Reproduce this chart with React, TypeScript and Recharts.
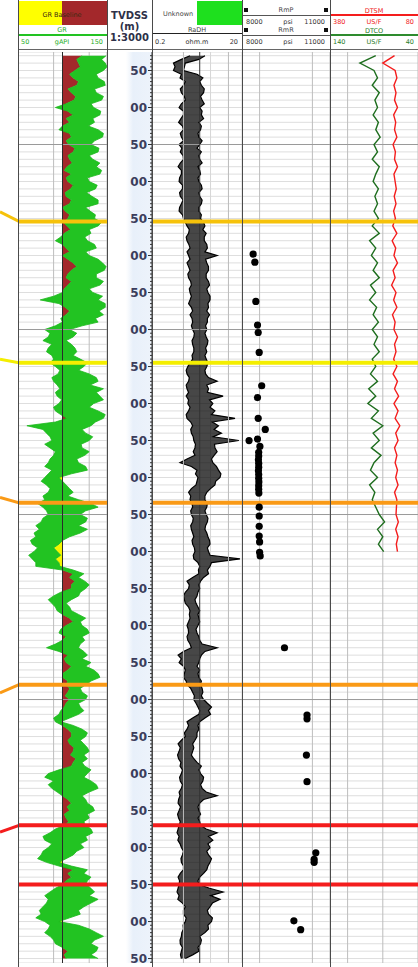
import React from "react";
import {
  Area,
  CartesianGrid,
  ComposedChart,
  Line,
  ReferenceLine,
  Scatter,
  XAxis,
  YAxis,
} from "recharts";

// ---- depth sampling -------------------------------------------------------
const LOG_START = 1030;
const LOG_STEP = 5;
const SONIC_STEP = 10;
const DEPTH_DOMAIN: [number, number] = [1025, 2256];

// GR envelope (gAPI), one value per 5 m from 1030 m to 2250 m (20 per line = 100 m)
const GR_BASELINE = 100;
const grLo = [
  122, 116, 118, 120, 114, 108, 112, 118, 116, 106, 110, 115, 113, 104, 92, 106, 112, 104, 108, 100,
  96, 108, 110, 104, 107, 114, 112, 106, 108, 111, 105, 102, 110, 104, 106, 112, 109, 103, 104, 110,
  108, 100, 103, 108, 106, 101, 105, 109, 102, 98, 92, 100, 104, 108, 100, 106, 112, 116, 110, 106,
  104, 110, 106, 102, 100, 90, 75, 96, 103, 108, 104, 98, 100, 92, 80, 86, 84, 78, 88, 84,
  82, 88, 90, 86, 92, 97, 95, 88, 90, 94, 97, 92, 94, 99, 96, 90, 92, 98, 105, 92,
  60, 78, 82, 86, 88, 80, 86, 92, 90, 86, 84, 80, 88, 84, 80, 76, 82, 86, 84, 78,
  80, 72, 78, 82, 84, 78, 76, 70, 74, 68, 70, 64, 66, 72, 68, 62, 66, 70, 70, 100,
  112, 108, 114, 110, 110, 98, 90, 84, 88, 92, 94, 100, 108, 112, 104, 98, 96, 104, 100, 92,
  82, 96, 106, 102, 104, 110, 106, 100, 100, 106, 104, 108, 106, 103, 108, 104, 102, 98, 96, 90,
  92, 100, 106, 110, 110, 106, 108, 113, 112, 109, 115, 112, 110, 96, 84, 80, 90, 84, 88, 94,
  100, 106, 110, 105, 108, 102, 104, 107, 102, 92, 86, 78, 80, 88, 84, 78, 76, 72, 82, 96,
  112, 106, 110, 104, 100, 92, 86, 80, 84, 82, 78, 74, 76, 70, 80, 86, 84, 80, 86, 90,
  92, 100, 106, 102, 104,
];
const grHi = [
  149, 144, 148, 150, 146, 138, 140, 147, 148, 136, 138, 146, 144, 132, 135, 143, 142, 134, 136, 129,
  140, 146, 145, 136, 132, 141, 140, 130, 134, 142, 138, 144, 142, 128, 130, 139, 137, 127, 133, 140,
  140, 126, 131, 137, 136, 144, 140, 130, 132, 125, 128, 136, 138, 126, 130, 140, 145, 149, 147, 138,
  138, 146, 142, 130, 134, 145, 140, 148, 148, 141, 146, 137, 140, 122, 108, 116, 112, 104, 110, 114,
  116, 112, 120, 128, 124, 118, 130, 138, 140, 131, 146, 138, 142, 146, 135, 130, 140, 148, 146, 137,
  132, 122, 126, 134, 130, 121, 122, 130, 125, 116, 118, 126, 128, 110, 96, 100, 104, 108, 112, 106,
  118, 132, 140, 126, 120, 128, 126, 118, 128, 120, 108, 100, 96, 90, 94, 98, 92, 96, 97, 112,
  124, 118, 125, 130, 126, 120, 118, 110, 104, 108, 110, 118, 126, 120, 122, 128, 130, 122, 125, 120,
  118, 124, 128, 122, 132, 126, 135, 140, 142, 132, 126, 120, 122, 128, 126, 118, 120, 124, 118, 108,
  98, 112, 122, 128, 126, 120, 124, 128, 130, 124, 128, 122, 125, 132, 128, 124, 132, 138, 140, 130,
  122, 126, 128, 134, 136, 128, 130, 124, 126, 132, 134, 126, 128, 120, 124, 116, 112, 104, 96, 110,
  128, 124, 132, 128, 126, 132, 136, 130, 140, 132, 124, 118, 120, 108, 96, 118, 130, 138, 146, 136,
  132, 140, 138, 132, 140,
];

// deep resistivity envelope (ohm.m), same sampling
const RES_CUTOFF = 2.3;
const resLo = [
  1.4, 0.9, 0.6, 0.65, 0.6, 0.9, 0.84, 1.1, 1.0, 0.85, 0.9, 1.05, 1.1, 0.9, 0.8, 1.0, 1.0, 0.88, 0.78, 0.95,
  1.0, 0.85, 0.9, 1.0, 0.8, 0.92, 0.85, 0.98, 1.0, 0.85, 0.76, 0.9, 0.9, 0.82, 0.8, 0.95, 0.95, 0.82, 0.85, 0.98,
  0.9, 0.82, 0.8, 0.95, 1.0, 1.1, 1.2, 1.35, 1.3, 1.15, 1.2, 1.32, 1.4, 1.2, 1.3, 1.4, 1.2, 1.3, 1.4, 1.25,
  1.3, 1.45, 1.5, 1.35, 1.4, 1.5, 1.4, 1.3, 1.5, 1.6, 1.4, 1.55, 1.6, 1.5, 1.6, 1.75, 1.7, 1.55, 1.6, 1.7,
  1.7, 1.55, 1.6, 1.4, 1.25, 1.15, 1.2, 1.35, 1.3, 1.15, 1.2, 1.3, 1.15, 1.3, 1.25, 1.4, 1.3, 1.15, 1.2, 1.45,
  1.6, 1.45, 1.5, 1.65, 1.7, 1.85, 1.8, 1.65, 1.8, 1.2, 0.84, 1.5, 2.0, 1.85, 2.1, 2.0, 1.9, 1.5, 1.3, 1.45,
  1.4, 1.55, 1.6, 1.45, 1.5, 1.65, 1.6, 1.45, 1.5, 1.6, 1.7, 1.55, 1.6, 1.75, 1.8, 1.65, 1.7, 2.1, 2.3, 2.15,
  2.2, 1.6, 1.2, 1.35, 1.3, 1.1, 1.0, 1.05, 1.1, 1.3, 1.4, 1.35, 1.4, 1.3, 1.2, 1.28, 1.3, 1.2, 1.25, 1.4,
  1.5, 1.0, 0.76, 0.9, 0.8, 1.0, 1.1, 1.05, 1.0, 1.15, 1.2, 1.45, 1.6, 1.75, 1.7, 1.9, 2.1, 2.3, 2.2, 1.6,
  1.2, 1.3, 1.2, 1.05, 1.1, 0.9, 0.76, 0.85, 0.8, 0.74, 0.78, 0.88, 0.84, 0.95, 0.9, 0.82, 0.85, 0.95, 0.9, 0.8,
  0.84, 0.78, 0.76, 0.86, 0.8, 0.74, 0.78, 0.85, 0.8, 0.76, 0.72, 0.8, 0.75, 0.84, 0.9, 1.0, 0.95, 0.88, 0.9, 1.0,
  1.0, 0.85, 0.76, 0.82, 0.8, 0.76, 0.72, 0.8, 0.75, 0.95, 1.1, 1.0, 1.0, 1.15, 1.1, 0.98, 1.0, 0.92, 0.9, 0.84,
  0.85, 0.95, 0.9, 0.86, 0.9,
];
const resHi = [
  3.0, 2.2, 1.1, 1.05, 1.0, 2.0, 2.7, 2.3, 2.5, 2.9, 2.8, 2.4, 2.6, 2.9, 2.3, 2.6, 2.5, 2.8, 2.2, 2.5,
  2.4, 2.1, 2.2, 2.6, 2.3, 2.0, 2.5, 2.2, 2.3, 2.6, 2.1, 2.3, 2.4, 2.1, 2.2, 2.5, 2.6, 2.2, 2.3, 2.6,
  2.5, 2.2, 2.2, 2.5, 2.4, 2.8, 3.0, 2.7, 3.2, 2.9, 2.9, 3.3, 3.4, 3.0, 5.6, 3.1, 3.3, 3.6, 3.6, 3.2,
  3.2, 3.6, 3.8, 3.3, 3.5, 3.9, 3.9, 3.5, 3.6, 3.3, 3.8, 3.4, 3.4, 3.1, 3.3, 3.0, 3.2, 3.5, 3.4, 3.1,
  3.3, 3.0, 3.2, 3.5, 3.3, 3.0, 3.1, 3.6, 5.6, 3.3, 3.6, 3.4, 7.6, 3.8, 4.5, 3.9, 5.0, 4.2, 14, 4.4,
  6.0, 4.8, 7.0, 4.6, 17, 4.9, 5.0, 5.6, 4.8, 4.2, 4.5, 5.4, 6.0, 6.8, 6.5, 5.2, 5.0, 4.0, 3.3, 3.0,
  3.0, 3.4, 3.3, 3.0, 3.2, 3.5, 3.4, 3.1, 3.0, 3.3, 3.5, 3.8, 3.9, 3.4, 3.6, 3.9, 18, 4.2, 3.9, 3.4,
  3.6, 2.8, 2.4, 2.2, 2.3, 2.1, 2.0, 1.8, 1.9, 2.1, 2.3, 2.1, 2.2, 2.3, 2.1, 1.9, 2.0, 2.2, 2.3, 2.6,
  5.6, 3.0, 2.5, 2.3, 2.2, 2.0, 2.3, 2.1, 2.2, 2.5, 2.4, 2.6, 2.7, 2.5, 2.8, 3.4, 4.2, 3.6, 4.0, 3.0,
  2.3, 2.1, 2.2, 2.0, 2.0, 1.8, 1.6, 1.7, 1.6, 1.5, 1.7, 2.0, 2.5, 2.2, 2.4, 2.8, 2.7, 2.4, 2.6, 3.2,
  5.6, 2.8, 2.3, 2.1, 2.2, 2.4, 2.1, 2.3, 2.4, 3.2, 5.6, 3.6, 4.5, 3.5, 3.9, 3.3, 3.6, 4.2, 3.9, 3.5,
  3.3, 2.8, 2.3, 2.1, 2.2, 3.8, 7.6, 4.0, 6.5, 4.4, 3.9, 3.4, 3.6, 4.4, 4.2, 3.5, 3.6, 3.0, 2.3, 2.5,
  2.4, 2.1, 2.2, 1.6, 1.1,
];

// sonic slowness (US/F), 10 m steps from 1030 m to 1700 m
const dtco = [
  88, 106, 90, 86, 92, 84, 89, 86, 91, 85,
  88, 83, 90, 86, 92, 84, 88, 91, 85, 89,
  86, 90, 85, 92, 84, 95, 88, 93, 86, 91,
  84, 94, 88, 95, 87, 91, 85, 92, 86, 90,
  84, 92, 88, 94, 86, 96, 88, 97, 85, 93,
  80, 91, 84, 93, 82, 90, 94, 86, 95, 89,
  92, null, 84, 78, 86, 80, 85, 79,
];
const dtsm = [
  160, 200, 158, 152, 162, 155, 160, 150, 163, 156,
  160, 152, 165, 157, 160, 150, 162, 158, 154, 161,
  155, 163, 157, 166, 152, 168, 156, 162, 150, 165,
  158, 170, 155, 163, 152, 167, 158, 162, 150, 160,
  155, 163, 152, 165, 150, 160, 146, 162, 148, 158,
  142, 156, 148, 160, 152, 158, 150, 156, 148, 160,
  152, null, 155, 147, 156, 148, 154, 150,
];

// formation pressure tests
const rmpDepth = [
  1298, 1309, 1362, 1394, 1404, 1431, 1476, 1492, 1520, 1535, 1548, 1550, 1558,
  1566, 1571, 1576, 1581, 1586, 1591, 1596, 1601, 1606, 1611, 1616, 1621,
  1640, 1652, 1666, 1679, 1687, 1701, 1706,
  1830, 1921, 1926, 1975, 2011, 2107, 2116, 2120, 2199, 2211,
];
const rmpPsi = [
  8379, 8438, 8472, 8528, 8552, 8586, 8672, 8528, 8552, 8793, 8528, 8241, 8610,
  8569, 8569, 8560, 8569, 8569, 8560, 8569, 8569, 8575, 8569, 8569, 8575,
  8586, 8586, 8586, 8586, 8600, 8600, 8620,
  9448, 10217, 10217, 10196, 10217, 10517, 10459, 10459, 9769, 10000,
];

// depth annotation
const depthLabels = [
  1050, 1100, 1150, 1200, 1250, 1300, 1350, 1400, 1450, 1500, 1550, 1600, 1650,
  1700, 1750, 1800, 1850, 1900, 1950, 2000, 2050, 2100, 2150, 2200, 2250,
];
const majorDepths = [1150, 1400, 1650, 1900, 2150];

// formation tops: depth in this well, depth at the correlation edge, colour
const topDepth = [1254, 1445, 1634, 1880, 2070, 2150];
const topEdgeDepth = [1241, 1440, 1627, 1891, 2079, null];
const topColor = ["#f6c20a", "#f4ee00", "#fa9a16", "#fa9a16", "#f41d1d", "#f41d1d"];

// ---- derived tables -------------------------------------------------------
const logRows = grLo.map((lo, i) => ({
  depth: LOG_START + i * LOG_STEP,
  gr: [lo, grHi[i]],
  grShale: [GR_BASELINE, Math.max(GR_BASELINE, lo)],
  grSand: [Math.min(GR_BASELINE, grHi[i]), GR_BASELINE],
  res: [resLo[i], resHi[i]],
}));
const sonicRows = dtco.map((v, i) => ({
  depth: LOG_START + i * SONIC_STEP,
  dtco: v,
  dtsm: dtsm[i],
}));
const rmpRows = rmpDepth.map((d, i) => ({ depth: d, psi: rmpPsi[i] }));

const gridDepths: number[] = [];
for (let d = 1030; d <= 2250; d += 10) gridDepths.push(d);
const rulerDepths: number[] = [];
for (let d = 1030; d <= 2255; d += 5) rulerDepths.push(d);

// ---- layout -----------------------------------------------------------------
const PLOT_TOP = 52;
const PLOT_H = 911;
const DEPTH_W = 45;
const FONT = "'DejaVu Sans', Verdana, sans-serif";
const NO_MARGIN = { top: 0, right: 0, bottom: 0, left: 0 };
const MINOR = "#dedede";
const GRIDV = "#bdbdbd";
const MAJOR = "#9a9a9a";

function Txt(p: {
  x: number;
  y: number;
  w?: number;
  align?: "left" | "center" | "right";
  color?: string;
  size?: number;
  bold?: boolean;
  children: React.ReactNode;
}) {
  const w = p.w ?? 60;
  const align = p.align ?? "center";
  const left = align === "center" ? p.x - w / 2 : align === "right" ? p.x - w : p.x;
  return (
    <div
      style={{
        position: "absolute",
        left,
        top: p.y,
        width: w,
        textAlign: align,
        color: p.color ?? "#333",
        fontSize: p.size ?? 6.5,
        fontWeight: p.bold ? 700 : 400,
        fontFamily: FONT,
        lineHeight: 1,
        whiteSpace: "nowrap",
      }}
    >
      {p.children}
    </div>
  );
}

function Box(p: { x: number; y: number; w: number; h: number; bg: string }) {
  return (
    <div style={{ position: "absolute", left: p.x, top: p.y, width: p.w, height: p.h, background: p.bg }} />
  );
}

function Header() {
  return (
    <>
      {/* GR */}
      <Box x={18} y={1} w={44} h={24} bg="#ffff00" />
      <Box x={62} y={1} w={45} h={24} bg="#a3282b" />
      <Txt x={62} y={12} size={6.5} color="#3a2a10">GR Baseline</Txt>
      <Txt x={62} y={27} color="#1fae1f">GR</Txt>
      <Box x={18} y={34} w={89} h={2} bg="#22c322" />
      <Txt x={21} y={39} align="left" color="#1fae1f">50</Txt>
      <Txt x={62} y={39} color="#1fae1f">gAPI</Txt>
      <Txt x={103} y={39} align="right" color="#1fae1f">150</Txt>

      {/* depth */}
      <Txt x={129.5} y={11} size={10} bold color="#2e3148">TVDSS</Txt>
      <Txt x={129.5} y={22} size={10} bold color="#2e3148">(m)</Txt>
      <Txt x={129.5} y={33} size={10} bold color="#2e3148">1:3000</Txt>

      {/* resistivity */}
      <Txt x={178} y={11} color="#444">Unknown</Txt>
      <Box x={197} y={1} w={45} h={24} bg="#1ee01e" />
      <Txt x={197} y={27} color="#444">RaDH</Txt>
      <Box x={152} y={33} w={90} h={1} bg="#222" />
      <Txt x={155} y={39} align="left" color="#333">0.2</Txt>
      <Txt x={197} y={39} color="#333">ohm.m</Txt>
      <Txt x={238} y={39} align="right" color="#333">20</Txt>

      {/* pressure */}
      <Box x={244} y={8} w={4} h={4} bg="#111" />
      <Box x={324} y={8} w={4} h={4} bg="#111" />
      <Txt x={286} y={7} color="#444">RmP</Txt>
      <Box x={242} y={15} w={88} h={1} bg="#555" />
      <Txt x={246} y={19} align="left">8000</Txt>
      <Txt x={288} y={19}>psi</Txt>
      <Txt x={325} y={19} align="right">11000</Txt>
      <Box x={244} y={28} w={4} h={4} bg="#111" />
      <Box x={324} y={28} w={4} h={4} bg="#111" />
      <Txt x={286} y={27} color="#444">RmR</Txt>
      <Box x={242} y={35} w={88} h={1} bg="#555" />
      <Txt x={246} y={39} align="left">8000</Txt>
      <Txt x={288} y={39}>psi</Txt>
      <Txt x={325} y={39} align="right">11000</Txt>

      {/* sonic */}
      <Txt x={374} y={8} color="#f02020">DTSM</Txt>
      <Box x={330} y={14} w={88} h={2} bg="#f41d1d" />
      <Txt x={333} y={19} align="left" color="#f02020">380</Txt>
      <Txt x={374} y={19} color="#f02020">US/F</Txt>
      <Txt x={414} y={19} align="right" color="#f02020">80</Txt>
      <Txt x={374} y={28} color="#2a7d2a">DTCO</Txt>
      <Box x={330} y={34} w={88} h={2} bg="#2e8b2e" />
      <Txt x={333} y={39} align="left" color="#2a7d2a">140</Txt>
      <Txt x={374} y={39} color="#2a7d2a">US/F</Txt>
      <Txt x={414} y={39} align="right" color="#2a7d2a">40</Txt>

      <Box x={18} y={49} w={400} h={1} bg="#666" />
    </>
  );
}

function DepthTick(props: any) {
  const { y, payload } = props;
  const v = payload.value as number;
  const labelled = depthLabels.includes(v);
  const len = labelled ? 4 : 2;
  return (
    <g>
      <line x1={DEPTH_W} x2={DEPTH_W - len} y1={y} y2={y} stroke="#333" strokeWidth={1} />
      {labelled && (
        <text
          x={DEPTH_W - len - 1}
          y={y}
          textAnchor="end"
          dominantBaseline="central"
          fontFamily={FONT}
          fontWeight={700}
          fontSize={12}
          fill="#3b3d5c"
        >
          {String(v % 100).padStart(2, "0")}
        </text>
      )}
    </g>
  );
}

function tops(xAxisId?: string) {
  return topDepth.map((d, i) => (
    <ReferenceLine
      key={`top-${i}`}
      y={d}
      xAxisId={xAxisId}
      stroke={topColor[i]}
      strokeWidth={4}
    />
  ));
}

function majors(xAxisId?: string) {
  return majorDepths.map((d) => (
    <ReferenceLine key={`maj-${d}`} y={d} xAxisId={xAxisId} stroke={MAJOR} strokeWidth={1} />
  ));
}

// in vertical layout the Y axis already runs top to bottom, so depth grows downward
const depthAxis = (
  <YAxis type="number" dataKey="depth" domain={DEPTH_DOMAIN} hide ticks={gridDepths} interval={0} allowDataOverflow />
);

export default function App() {
  const trackStyle = (left: number): React.CSSProperties => ({ position: "absolute", left, top: PLOT_TOP });
  return (
    <div style={{ position: "absolute", left: 0, top: 0, width: 418, height: 967, background: "#fff", overflow: "hidden" }}>
      <Header />

      {/* correlation edge */}
      <div style={trackStyle(0)}>
        <ComposedChart width={19} height={PLOT_H} margin={NO_MARGIN}>
          <XAxis type="number" dataKey="s" domain={[0, 1]} hide />
          <YAxis type="number" domain={DEPTH_DOMAIN} reversed hide />
          {topDepth.map((d, i) =>
            topEdgeDepth[i] == null ? null : (
              <Line
                key={`edge-${i}`}
                data={[{ s: 0, depth: topEdgeDepth[i] }, { s: 1, depth: d }]}
                dataKey="depth"
                stroke={topColor[i]}
                strokeWidth={3}
                dot={false}
                isAnimationActive={false}
              />
            ),
          )}
        </ComposedChart>
      </div>

      {/* GR track */}
      <div style={trackStyle(18)}>
        <ComposedChart layout="vertical" width={89} height={PLOT_H} data={logRows} margin={NO_MARGIN}>
          <XAxis type="number" domain={[50, 150]} ticks={[70, 90, 110, 130]} hide allowDataOverflow />
          {depthAxis}
          <CartesianGrid vertical={false} stroke={MINOR} />
          <CartesianGrid horizontal={false} stroke={GRIDV} />
          {majors()}
          <Area dataKey="grSand" stroke="none" fill="#f5f500" fillOpacity={1} isAnimationActive={false} />
          <Area dataKey="grShale" stroke="none" fill="#a3282b" fillOpacity={1} isAnimationActive={false} />
          <Area dataKey="gr" stroke="#1cb81c" strokeWidth={0.8} fill="#22c322" fillOpacity={1} isAnimationActive={false} />
          <ReferenceLine x={GR_BASELINE} stroke="#2a2a2a" strokeWidth={1} />
          {tops()}
        </ComposedChart>
      </div>

      {/* depth track */}
      <div
        style={{
          ...trackStyle(107),
          width: DEPTH_W,
          height: PLOT_H,
          background: "linear-gradient(90deg, #ffffff 0%, #ffffff 42%, #e8f0fa 58%, #edf3fb 100%)",
        }}
      >
        <ComposedChart layout="vertical" width={DEPTH_W} height={PLOT_H} data={logRows} margin={NO_MARGIN}>
          <XAxis type="number" domain={[0, 1]} hide />
          <YAxis
            yAxisId="ruler"
            orientation="left"
            mirror
            type="number"
            dataKey="depth"
            domain={DEPTH_DOMAIN}
            ticks={rulerDepths}
            interval={0}
            tick={false}
            tickSize={3}
            axisLine={{ stroke: "#333" }}
            tickLine={{ stroke: "#333" }}
          />
          <YAxis
            yAxisId="label"
            orientation="right"
            mirror
            type="number"
            dataKey="depth"
            domain={DEPTH_DOMAIN}
            ticks={rulerDepths}
            interval={0}
            tick={<DepthTick />}
            tickLine={false}
            axisLine={{ stroke: "#333" }}
          />
        </ComposedChart>
      </div>

      {/* resistivity track */}
      <div style={trackStyle(152)}>
        <ComposedChart layout="vertical" width={90} height={PLOT_H} data={logRows} margin={NO_MARGIN}>
          <XAxis
            type="number"
            scale="log"
            domain={[0.2, 20]}
            ticks={[0.3, 0.4, 0.5, 0.6, 0.7, 0.8, 0.9, 1, 3, 4, 5, 6, 7, 8, 9, 10]}
            hide
            allowDataOverflow
          />
          {depthAxis}
          <CartesianGrid vertical={false} stroke={MINOR} />
          <CartesianGrid horizontal={false} stroke="#d6d6d6" />
          <ReferenceLine x={1} stroke={GRIDV} />
          <ReferenceLine x={10} stroke={GRIDV} />
          {majors()}
          <Area dataKey="res" stroke="#000" strokeWidth={1.2} fill="#000" fillOpacity={0.72} isAnimationActive={false} />
          <ReferenceLine x={RES_CUTOFF} stroke="#333" strokeWidth={1} />
          {tops()}
        </ComposedChart>
      </div>

      {/* pressure track */}
      <div style={trackStyle(242)}>
        <ComposedChart layout="vertical" width={88} height={PLOT_H} data={rmpRows} margin={NO_MARGIN}>
          <XAxis type="number" dataKey="psi" domain={[8000, 11000]} ticks={[8600, 9200, 9800, 10400]} hide />
          {depthAxis}
          <CartesianGrid vertical={false} stroke={MINOR} />
          <CartesianGrid horizontal={false} stroke={GRIDV} />
          {majors()}
          <Scatter
            data={rmpRows}
            isAnimationActive={false}
            shape={(p: any) => <circle cx={p.cx} cy={p.cy} r={3.6} fill="#000" />}
          />
          {tops()}
        </ComposedChart>
      </div>

      {/* sonic track */}
      <div style={trackStyle(330)}>
        <ComposedChart layout="vertical" width={88} height={PLOT_H} data={sonicRows} margin={NO_MARGIN}>
          <XAxis xAxisId="sm" type="number" domain={[80, 380]} reversed ticks={[140, 200, 260, 320]} hide />
          <XAxis xAxisId="co" type="number" domain={[40, 140]} reversed hide />
          {depthAxis}
          <CartesianGrid xAxisId="sm" vertical={false} stroke={MINOR} />
          <CartesianGrid xAxisId="sm" horizontal={false} stroke={GRIDV} />
          {majors("sm")}
          <Line xAxisId="co" dataKey="dtco" stroke="#1f6e1f" strokeWidth={1.4} dot={false} isAnimationActive={false} />
          <Line xAxisId="sm" dataKey="dtsm" stroke="#f41d1d" strokeWidth={1.4} dot={false} isAnimationActive={false} />
          {tops("sm")}
        </ComposedChart>
      </div>

      {/* track borders */}
      {[18, 107, 152, 242, 330].map((x) => (
        <Box key={x} x={x} y={0} w={1} h={967} bg="#4a4a4a" />
      ))}
    </div>
  );
}
